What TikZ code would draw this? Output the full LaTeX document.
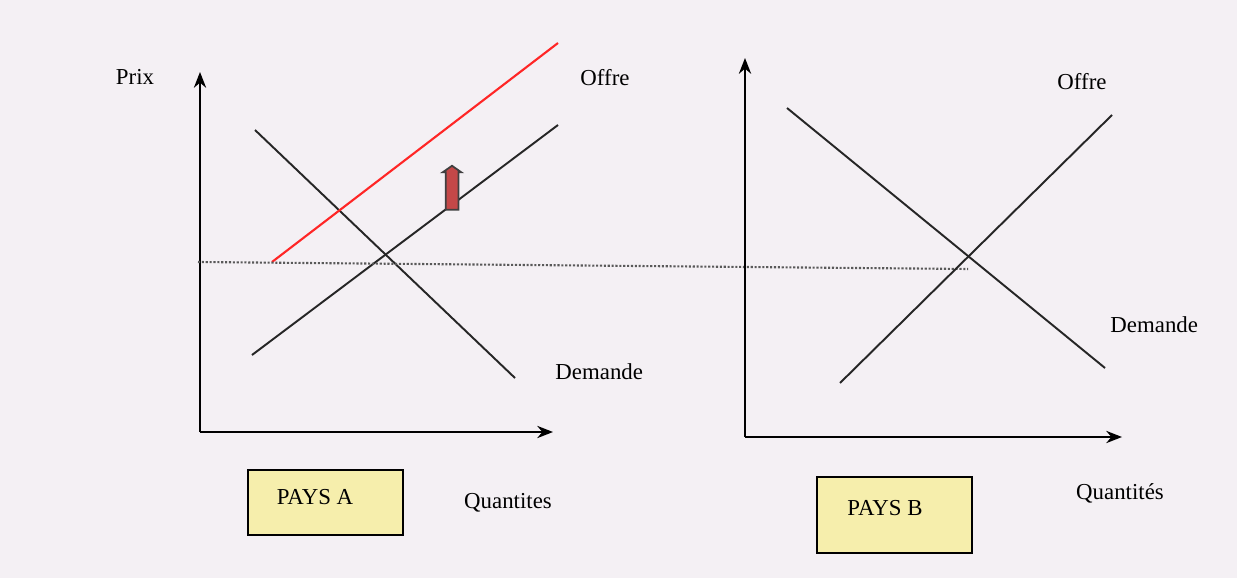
\documentclass[tikz,border=0pt]{standalone}
\usepackage{fontspec}
\setmainfont{Liberation Serif}
\usepackage{tikz}
\usetikzlibrary{positioning, arrows.meta, calc, shapes.arrows}
\definecolor{paper}{RGB}{244,240,244}
\definecolor{boxyellow}{RGB}{246,238,172}
\definecolor{shiftred}{RGB}{196,72,72}
\tikzset{every picture/.append style={thick}}
\tikzset{
    axis/.style={->, >={Stealth[length=9pt,width=7pt]}, line width=1pt},
    curve/.style={line width=1.1pt, color=black!85},
    lbl/.style={font=\fontsize{13}{15}\selectfont, inner sep=1pt},
    paysbox/.style={draw, line width=1pt, fill=boxyellow, minimum width=3.1cm, font=\fontsize{13}{15}\selectfont}
}

\begin{document}
\begin{tikzpicture}[x={(0.02cm,0)}, y={(0,-0.02cm)}]
    \fill[paper] (0,0) rectangle (1237,578);
    \useasboundingbox (0,0) rectangle (1237,578);

    % pays A
    \coordinate (oA) at (200,432);
    \coordinate (yA) at (200,72);
    \coordinate (xA) at (553,432);
    \draw[axis] (oA) -- (yA);
    \draw[axis] (oA) -- (xA);
    \node[lbl] (prix) at (135,77) {Prix};

    \coordinate (dA1) at (255,130);
    \coordinate (dA2) at (515,378);
    \coordinate (sA1) at (252,355);
    \coordinate (sA2) at (558,125);
    \draw[curve] (dA1) -- (dA2);
    \draw[curve] (sA1) -- (sA2);
    \coordinate (rA1) at (272,262);
    \coordinate (rA2) at (558,43);
    \draw[line width=1.2pt, color=red!85!white] (rA1) -- (rA2);
    \node[single arrow, draw=black!75, fill=shiftred, line width=1pt, rotate=90,
          minimum height=0.88cm, inner sep=0.11cm, single arrow head extend=0.06cm,
          single arrow tip angle=110] (shift) at (452,190) {};

    \node[lbl, anchor=west] (offreA) at (578,78) {Offre};
    \node[lbl, anchor=west] (demA) at (553,372) {Demande};

    % prix d'equilibre
    \coordinate (pL) at (198,262);
    \coordinate (pR) at (968,269);
    \draw[densely dotted, line width=1.2pt, color=black!65] (pL) -- (pR);

    \node[paysbox, minimum height=1.3cm] (paysA) at (325.5,502.5) {};
    \node[lbl] (nomA) at (315,497) {PAYS A};
    \node[lbl] (quantA) at (508,503) {Quantites};

    % pays B
    \coordinate (oB) at (745,437);
    \coordinate (yB) at (745,58);
    \coordinate (xB) at (1122,437);
    \draw[axis] (oB) -- (yB);
    \draw[axis] (oB) -- (xB);

    \coordinate (dB1) at (787,108);
    \coordinate (dB2) at (1105,368);
    \coordinate (sB1) at (840,383);
    \coordinate (sB2) at (1112,115);
    \draw[curve] (dB1) -- (dB2);
    \draw[curve] (sB1) -- (sB2);

    \node[lbl, anchor=west] (offreB) at (1055,82) {Offre};
    \node[lbl, anchor=west] (demB) at (1108,325) {Demande};

    \node[paysbox, minimum height=1.52cm] (paysB) at (894.5,515) {};
    \node[lbl] (nomB) at (885,508) {PAYS B};
    \node[lbl] (quantB) at (1120,493) {Quantités};
\end{tikzpicture}
\end{document}
